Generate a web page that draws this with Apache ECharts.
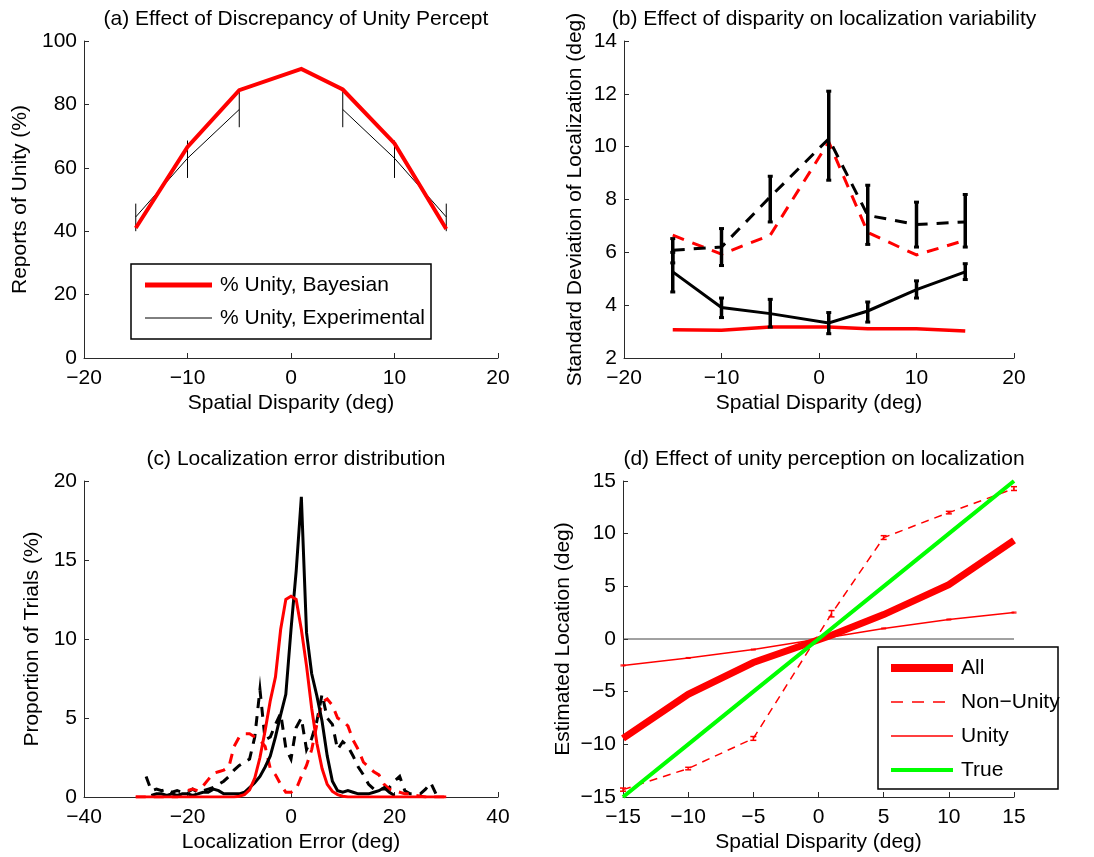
<!DOCTYPE html>
<html>
<head>
<meta charset="utf-8">
<script src="https://cdn.jsdelivr.net/npm/echarts@6/dist/echarts.min.js"></script>
<style>
  html, body { margin: 0; padding: 0; background: #ffffff; }
  #fig { width: 1094px; height: 857px; }
</style>
</head>
<body>
<div id="fig"></div>
<script>
// ---------- shared x positions (spatial disparity, deg) ----------
const disparity = [-15, -10, -5, 1, 5, 10, 15];

// ---------- (a) reports of unity (%) ----------
const unityBayesian = [41.0, 66.6, 84.5, 91.2, 84.7, 67.7, 40.7];
const unityExperimental = [44.5, 63.0, 78.4, null, 78.4, 63.0, 44.5];
const unityExpLow = [40.0, 56.8, 72.8, null, 72.8, 56.8, 40.0];
const unityExpHigh = [48.7, 68.6, 84.2, null, 84.2, 68.6, 48.7];

// ---------- (b) SD of localization (deg) ----------
const sdBayesAll = [3.07, 3.05, 3.17, 3.17, 3.11, 3.11, 3.02];
const sdBayesNonUnity = [6.65, 5.93, 6.65, 10.18, 6.75, 5.9, 6.46];
const sdExpAll = [5.26, 3.91, 3.68, 3.33, 3.78, 4.59, 5.26];
const sdExpAllLow = [4.5, 3.53, 3.17, 2.92, 3.36, 4.27, 4.97];
const sdExpAllHigh = [6.0, 4.27, 4.22, 3.72, 4.12, 4.92, 5.57];
const sdExpNonUnity = [6.08, 6.2, 8.1, 10.3, 7.4, 7.05, 7.15];
const sdExpNonUnityLow = [5.6, 5.5, 7.15, 8.73, 6.3, 6.2, 6.2];
const sdExpNonUnityHigh = [6.52, 6.9, 8.88, 12.1, 8.54, 7.9, 8.19];

// ---------- (c) localization error distribution (% of trials) ----------
const errorBins = [
  -30, -29, -28, -27, -26, -25, -24, -23, -22, -21,
  -20, -19, -18, -17, -16, -15, -14, -13, -12, -11,
  -10, -9, -8, -7, -6, -5, -4, -3, -2, -1,
  0, 1, 2, 3, 4, 5, 6, 7, 8, 9,
  10, 11, 12, 13, 14, 15, 16, 17, 18, 19,
  20, 21, 22, 23, 24, 25, 26, 27, 28, 29,
  30
];
const errBayesAll = [
  0, 0, 0, 0, 0, 0, 0, 0, 0, 0,
  0, 0, 0, 0, 0, 0, 0, 0, 0, 0,
  0.05, 0.15, 0.45, 1.2, 2.5, 4.2, 6.1, 7.6, 10.6, 12.5,
  12.7, 12.5, 10.6, 8.3, 5.6, 3.4, 1.8, 0.8, 0.35, 0.15,
  0.05, 0, 0, 0, 0, 0, 0, 0, 0, 0,
  0, 0, 0, 0, 0, 0, 0, 0, 0, 0,
  0
];
const errExpAll = [
  null, null, null, 0.1, 0.2, 0.2, 0.1, 0.2, 0.1, 0.2,
  0.2, 0.1, 0.2, 0.3, 0.3, 0.5, 0.4, 0.2, 0.2, 0.2,
  0.2, 0.3, 0.6, 0.9, 1.3, 1.9, 2.6, 3.8, 5.2, 6.5,
  10.6, 14.3, 19.0, 10.4, 7.8, 6.4, 4.8, 2.6, 1.0, 0.4,
  0.3, 0.4, 0.3, 0.2, 0.2, 0.2, 0.3, 0.4, 0.6, 0.3,
  0.1, null, null, null, null, null, null, null, null, null,
  null
];
const errBayesNonUnity = [
  0, 0, 0, 0, 0, 0, 0, 0, 0, 0.2,
  0.4, 0.5, 0.4, 0.7, 1.1, 1.5, 1.6, 1.7, 1.9, 3.2,
  3.8, 4.0, 4.0, 3.8, 3.6, 3.2, 1.8, 1.4, 0.8, 0.3,
  0.3, 0.5, 1.3, 2.0, 3.0, 4.6, 6.0, 6.2, 5.8, 5.0,
  4.8, 4.5, 3.6, 3.0, 2.2, 1.9, 1.6, 1.4, 0.8, 0.5,
  0.4, 0.3, 0.2, 0.2, 0.1, 0.05, 0, 0, 0, 0,
  0
];
const errExpNonUnity = [
  null, null, 1.3, 0.4, 0.5, 0.4, 0.5, 0.3, 0.4, 0.3,
  0.3, 0.5, 0.3, 0.4, 0.5, 0.6, 0.8, 1.0, 1.3, 1.7,
  2.0, 2.2, 2.4, 3.8, 6.8, 3.6, 3.8, 4.6, 5.3, 3.1,
  2.4, 4.4, 5.0, 3.0, 3.7, 4.8, 6.5, 5.0, 4.6, 3.0,
  3.5, 3.2, 2.6, 1.9, 1.4, 0.8, 0.5, 0.5, 0.5, 0.6,
  1.0, 1.3, 0.4, 0.2, 0.2, 0.2, 0.5, 0.9, 0.2, null,
  null
];

// ---------- (d) estimated location (deg) ----------
const locAll = [-9.44, -5.26, -2.23, 0.35, 2.32, 5.16, 9.37];
const locNonUnity = [-14.3, -12.3, -9.44, 2.4, 9.63, 12.0, 14.28];
const locNonUnityLow = [-14.45, -12.42, -9.62, 2.1, 9.45, 11.88, 14.1];
const locNonUnityHigh = [-14.15, -12.18, -9.26, 2.7, 9.81, 12.12, 14.46];
const locUnity = [-2.51, -1.8, -1.0, 0.2, 1.0, 1.85, 2.51];
const locUnityLow = [-2.56, -1.85, -1.05, 0.15, 0.95, 1.8, 2.46];
const locUnityHigh = [-2.46, -1.75, -0.95, 0.25, 1.05, 1.9, 2.56];
const locTrue = [-15, -10, -5, 1, 5, 10, 15];
const zeroRefX = [-15, 15];
const zeroRefY = [0, 0];

// ---------- tick / label text ----------
const titles = [
  '(a) Effect of Discrepancy of Unity Percept',
  '(b) Effect of disparity on localization variability',
  '(c) Localization error distribution',
  '(d) Effect of unity perception on localization'
];
const xNames = ['Spatial Disparity (deg)', 'Spatial Disparity (deg)', 'Localization Error (deg)', 'Spatial Disparity (deg)'];
const yNames = ['Reports of Unity (%)', 'Standard Deviation of Localization (deg)', 'Proportion of Trials (%)', 'Estimated Location (deg)'];
const legendA = ['% Unity, Bayesian', '% Unity, Experimental'];
const legendD = ['All', 'Non\u2212Unity', 'Unity', 'True'];

// ---------- styling ----------
const FONT = "'Liberation Sans', Arial, Helvetica, sans-serif";
const FS = 21;
const RED = '#ff0000', BLACK = '#000000', GREEN = '#00ff00', AXIS = '#2a2a2a';

const grids = [
  { left: 84, top: 41, width: 414, height: 317 },
  { left: 624, top: 41, width: 390, height: 317 },
  { left: 84, top: 481, width: 414, height: 316 },
  { left: 623, top: 481, width: 391, height: 316 }
];

function fmt(v) { return String(v).replace('-', '\u2212'); }

function makeX(i, min, max, interval, nameGap) {
  return {
    type: 'value', gridIndex: i, min, max, interval,
    name: xNames[i], nameLocation: 'middle', nameGap,
    nameTextStyle: { fontFamily: FONT, fontSize: FS, color: '#000' },
    axisLine: { show: true, onZero: false, lineStyle: { color: AXIS, width: 1 } },
    axisTick: { show: true, inside: true, length: 5, lineStyle: { color: AXIS, width: 1 } },
    axisLabel: { fontFamily: FONT, fontSize: FS, color: '#000', margin: 10, formatter: fmt },
    splitLine: { show: false }
  };
}
function makeY(i, min, max, interval, nameGap) {
  return {
    type: 'value', gridIndex: i, min, max, interval,
    name: yNames[i], nameLocation: 'middle', nameGap,
    nameTextStyle: { fontFamily: FONT, fontSize: FS, color: '#000' },
    axisLine: { show: true, onZero: false, lineStyle: { color: AXIS, width: 1 } },
    axisTick: { show: true, inside: true, length: 5, lineStyle: { color: AXIS, width: 1 } },
    axisLabel: { fontFamily: FONT, fontSize: FS, color: '#000', margin: 7, formatter: fmt },
    splitLine: { show: false }
  };
}

function pairs(xs, ys) {
  return xs.map((x, k) => [x, ys[k] == null ? '-' : ys[k]]);
}
function line(i, xs, ys, color, width, dash, z) {
  return {
    type: 'line', xAxisIndex: i, yAxisIndex: i, data: pairs(xs, ys),
    showSymbol: false, symbol: 'none', connectNulls: false, silent: true, z: z || 2,
    lineStyle: { color, width, type: dash || 'solid', cap: 'butt', join: 'miter' },
    animation: false
  };
}
function errorBars(i, xs, lo, hi, color, width, cap, capWidth, z) {
  const data = [];
  xs.forEach((x, k) => { if (lo[k] != null && hi[k] != null) data.push([x, lo[k], hi[k]]); });
  return {
    type: 'custom', xAxisIndex: i, yAxisIndex: i, data, silent: true, z: z || 3,
    encode: { x: 0, y: [1, 2] }, animation: false,
    renderItem: (params, api) => {
      const x = api.value(0);
      const a = api.coord([x, api.value(1)]);
      const b = api.coord([x, api.value(2)]);
      const children = [{
        type: 'line', shape: { x1: a[0], y1: a[1], x2: b[0], y2: b[1] },
        style: { stroke: color, lineWidth: width }
      }];
      if (cap > 0) {
        [a, b].forEach(p => children.push({
          type: 'line', shape: { x1: p[0] - cap, y1: p[1], x2: p[0] + cap, y2: p[1] },
          style: { stroke: color, lineWidth: capWidth }
        }));
      }
      return { type: 'group', children };
    }
  };
}

const titleCenters = [[291, 4], [819, 4], [291, 444], [819, 444]];

const txt = (x, y, s) => ({
  type: 'text', x, y,
  style: { text: s, fontFamily: FONT, fontSize: FS, fill: '#000', textVerticalAlign: 'middle', verticalAlign: 'middle' },
  silent: true
});
const seg = (x1, y1, x2, y2, color, w, dash) => ({
  type: 'line', shape: { x1, y1, x2, y2 },
  style: { stroke: color, lineWidth: w, lineDash: dash || null }, silent: true
});

const legendGraphics = [
  // legend of (a)
  { type: 'rect', shape: { x: 131, y: 264, width: 300, height: 75 }, style: { fill: '#fff', stroke: '#000', lineWidth: 1.5 }, z: 10 },
  Object.assign(seg(145, 285, 212, 285, RED, 5), { z: 11 }),
  Object.assign(txt(220, 285, legendA[0]), { z: 11 }),
  Object.assign(seg(145, 318, 212, 318, BLACK, 1), { z: 11 }),
  Object.assign(txt(220, 318, legendA[1]), { z: 11 }),
  // legend of (d)
  { type: 'rect', shape: { x: 878, y: 647, width: 180, height: 142 }, style: { fill: '#fff', stroke: '#000', lineWidth: 1.5 }, z: 10 },
  Object.assign(seg(891, 668, 953, 668, RED, 8), { z: 11 }),
  Object.assign(txt(961, 668, legendD[0]), { z: 11 }),
  Object.assign(seg(891, 702, 953, 702, RED, 1.5, [12, 9]), { z: 11 }),
  Object.assign(txt(961, 702, legendD[1]), { z: 11 }),
  Object.assign(seg(891, 736, 953, 736, RED, 1.5), { z: 11 }),
  Object.assign(txt(961, 736, legendD[2]), { z: 11 }),
  Object.assign(seg(891, 770, 953, 770, GREEN, 4), { z: 11 }),
  Object.assign(txt(961, 770, legendD[3]), { z: 11 })
];

const option = {
  backgroundColor: '#ffffff',
  animation: false,
  textStyle: { fontFamily: FONT },
  title: titles.map((t, i) => ({
    text: t, left: titleCenters[i][0], top: titleCenters[i][1], textAlign: 'center',
    textStyle: { fontFamily: FONT, fontSize: FS, fontWeight: 'normal', color: '#000' }
  })),
  grid: grids,
  xAxis: [
    makeX(0, -20, 20, 10, 35),
    makeX(1, -20, 20, 10, 35),
    makeX(2, -40, 40, 20, 35),
    makeX(3, -15, 15, 5, 35)
  ],
  yAxis: [
    makeY(0, 0, 100, 20, 53),
    makeY(1, 2, 14, 2, 38),
    makeY(2, 0, 20, 5, 41),
    makeY(3, -15, 15, 5, 49)
  ],
  series: [
    // (a)
    line(0, disparity, unityExperimental, BLACK, 1, 'solid', 2),
    errorBars(0, disparity, unityExpLow, unityExpHigh, BLACK, 1, 0, 1, 2),
    line(0, disparity, unityBayesian, RED, 4, 'solid', 4),

    // (b)
    line(1, disparity, sdBayesAll, RED, 3.5, 'solid', 2),
    line(1, disparity, sdBayesNonUnity, RED, 3, [12, 9], 2),
    line(1, disparity, sdExpNonUnity, BLACK, 3, [12, 9], 3),
    line(1, disparity, sdExpAll, BLACK, 3, 'solid', 3),
    errorBars(1, disparity, sdExpNonUnityLow, sdExpNonUnityHigh, BLACK, 3.5, 2.5, 3, 4),
    errorBars(1, disparity, sdExpAllLow, sdExpAllHigh, BLACK, 3.5, 2.5, 3, 4),

    // (c)
    line(2, errorBins, errExpNonUnity, BLACK, 3, [10, 8], 2),
    line(2, errorBins, errBayesNonUnity, RED, 3, [10, 8], 2),
    line(2, errorBins, errExpAll, BLACK, 3, 'solid', 3),
    line(2, errorBins, errBayesAll, RED, 3, 'solid', 4),

    // (d)
    line(3, zeroRefX, zeroRefY, '#444444', 1, 'solid', 1),
    line(3, disparity, locUnity, RED, 1.5, 'solid', 2),
    errorBars(3, disparity, locUnityLow, locUnityHigh, RED, 1, 2.5, 1, 2),
    line(3, disparity, locNonUnity, RED, 1.5, [8, 6], 2),
    errorBars(3, disparity, locNonUnityLow, locNonUnityHigh, RED, 1.5, 3, 1.5, 2),
    line(3, disparity, locAll, RED, 7, 'solid', 3),
    line(3, disparity, locTrue, GREEN, 4, 'solid', 4)
  ],
  graphic: legendGraphics
};

const chart = echarts.init(document.getElementById('fig'), null, { renderer: 'canvas' });
chart.setOption(option);
</script>
</body>
</html>
